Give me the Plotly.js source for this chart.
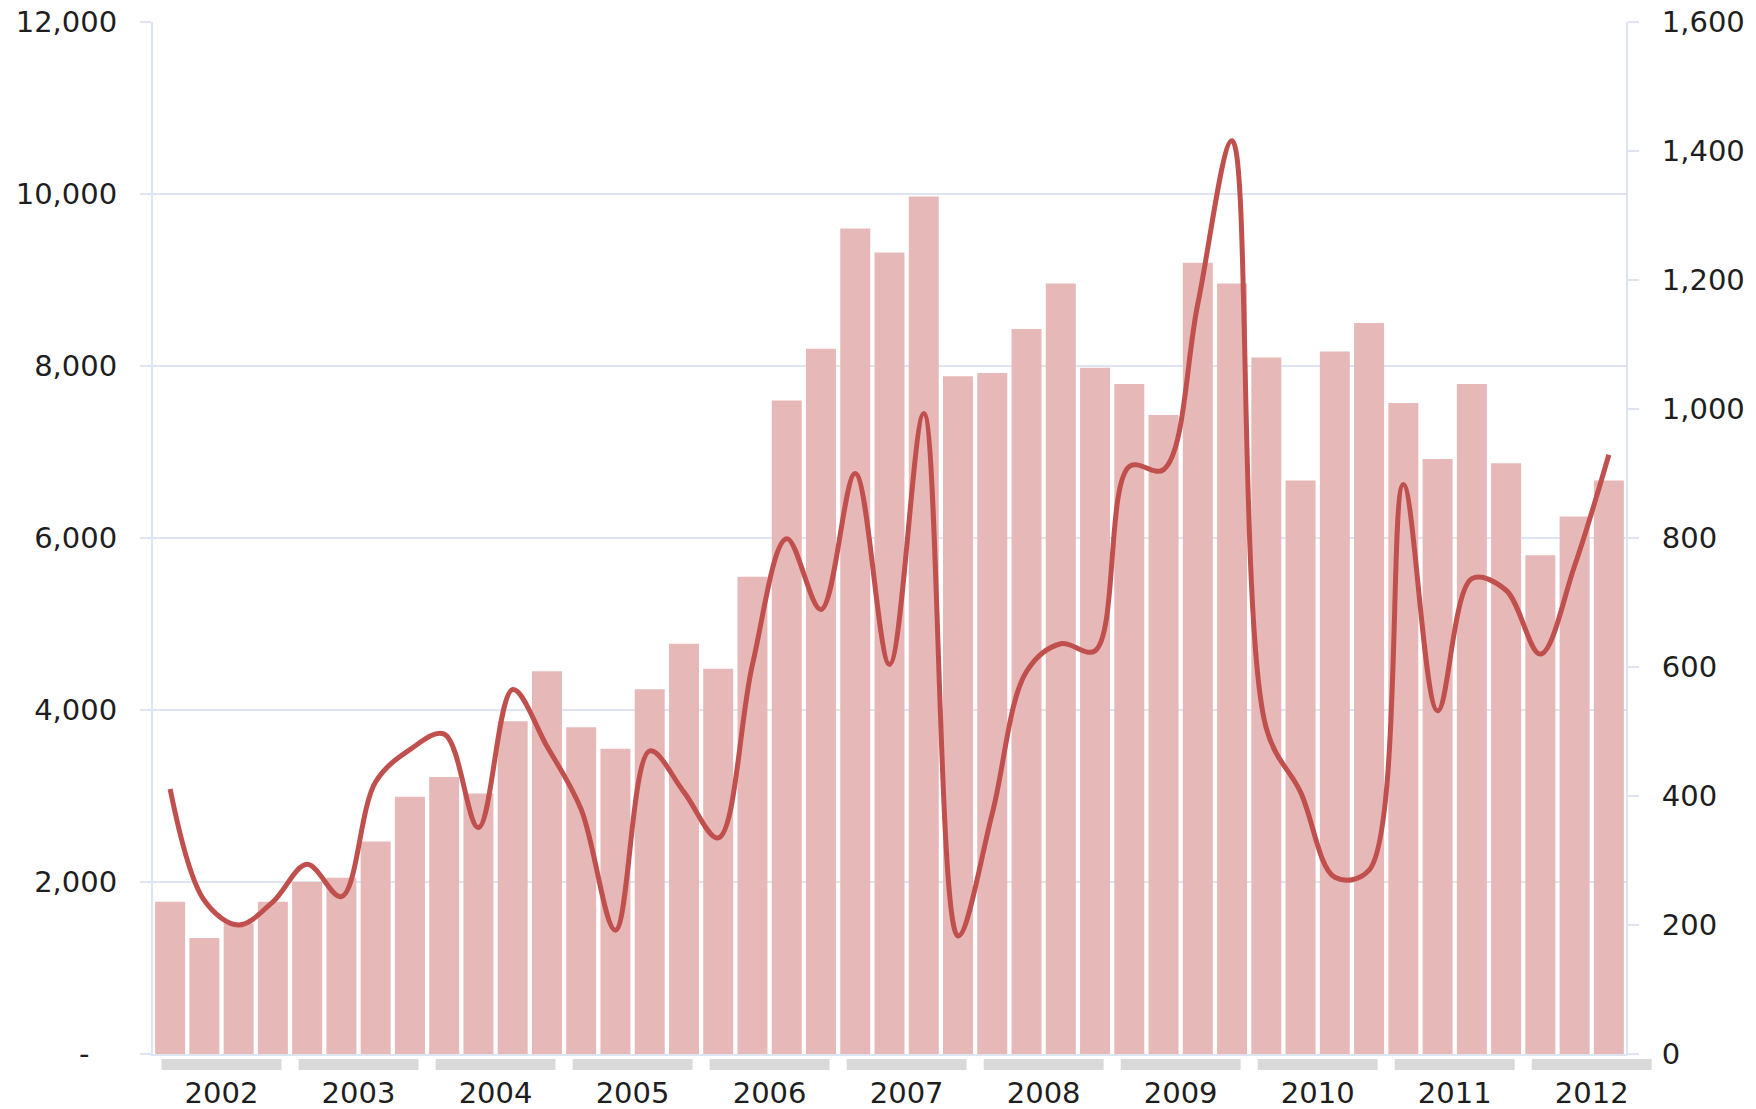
<!DOCTYPE html>
<html>
<head>
<meta charset="utf-8">
<script src="https://cdn.plot.ly/plotly-3.0.1.min.js"></script>
<style>
  html, body { margin: 0; padding: 0; background: #ffffff; }
  #chart { width: 1756px; height: 1109px; }
</style>
</head>
<body>
<div id="chart"></div>
<script>
// ---- data ----
const years = ["2002","2003","2004","2005","2006","2007","2008","2009","2010","2011","2012"];
const quarters = ["Q1","Q2","Q3","Q4"];

// quarterly bar values (left axis)
const barValues = [
  1770, 1350, 1520, 1770,
  2000, 2050, 2470, 2990,
  3220, 3030, 3870, 4450,
  3800, 3550, 4240, 4770,
  4480, 5550, 7600, 8200,
  9600, 9320, 9970, 7880,
  7920, 8430, 8960, 7980,
  7790, 7430, 9200, 8960,
  8100, 6670, 8170, 8500,
  7570, 6920, 7790, 6870,
  5800, 6250, 6670
];

// quarterly line values (right axis)
const lineValues = [
  411, 238, 200, 236,
  294, 244, 422, 472,
  496, 351, 565, 477,
  379, 192, 470, 406,
  335, 604, 799, 689,
  900, 604, 993, 183,
  373, 593, 636, 625,
  911, 906, 1163, 1416,
  505, 406, 274, 285,
  883, 532, 737, 719,
  620, 757, 929
];

const leftTicks = [0, 2000, 4000, 6000, 8000, 10000, 12000];
const leftTickText = ["-\u00a0\u00a0\u00a0", "2,000", "4,000", "6,000", "8,000", "10,000", "12,000"];
const rightTicks = [0, 200, 400, 600, 800, 1000, 1200, 1400, 1600];

// ---- derived ----
const n = barValues.length;
const xIdx = barValues.map((_, i) => i);
const hoverLabels = barValues.map((_, i) => years[Math.floor(i / 4)] + " " + quarters[i % 4]);
const yearCenters = years.map((_, k) => k * 4 + 1.5);

const gridColor = "#dce5f1";
const textColor = "#1e1e1e";
const fontFamily = "DejaVu Sans, Verdana, sans-serif";

const plotH = 1109 - 22 - 55;

const shapes = yearCenters.map(c => ({
  type: "rect",
  xref: "paper", yref: "paper",
  x0: (c - 1.75 + 0.5) / n,
  x1: (c + 1.75 + 0.5) / n,
  y0: -16 / plotH,
  y1: -5 / plotH,
  fillcolor: "#d9d9d9",
  line: { width: 0 },
  layer: "above"
}));

const traces = [
  {
    type: "bar",
    x: xIdx,
    y: barValues,
    text: hoverLabels,
    hoverinfo: "text+y",
    textposition: "none",
    marker: { color: "#e6b8b7", line: { width: 0 } },
    yaxis: "y",
    showlegend: false
  },
  {
    type: "scatter",
    mode: "lines",
    x: xIdx,
    y: lineValues,
    text: hoverLabels,
    hoverinfo: "text+y",
    line: { color: "#c0504d", width: 5, shape: "spline", smoothing: 1 },
    yaxis: "y2",
    showlegend: false
  }
];

const layout = {
  width: 1756,
  height: 1109,
  margin: { l: 153, r: 130, t: 22, b: 55, pad: 0 },
  paper_bgcolor: "#ffffff",
  plot_bgcolor: "#ffffff",
  font: { family: fontFamily, size: 29, color: textColor },
  bargap: 0.125,
  showlegend: false,
  xaxis: {
    range: [-0.5, n - 0.5],
    tickmode: "array",
    tickvals: yearCenters,
    ticktext: years,
    ticks: "",
    ticklabelstandoff: 12,
    showgrid: false,
    zeroline: false,
    showline: true,
    linecolor: gridColor,
    linewidth: 2,
    tickfont: { family: fontFamily, size: 29, color: textColor },
    fixedrange: true
  },
  yaxis: {
    range: [0, 12000],
    tickmode: "array",
    tickvals: leftTicks,
    ticktext: leftTickText,
    showgrid: true,
    gridcolor: gridColor,
    gridwidth: 1.5,
    zeroline: false,
    showline: true,
    linecolor: gridColor,
    linewidth: 2,
    ticks: "outside",
    ticklen: 11,
    tickwidth: 1.5,
    tickcolor: gridColor,
    ticklabelstandoff: 17,
    tickfont: { family: fontFamily, size: 29, color: textColor },
    fixedrange: true
  },
  yaxis2: {
    overlaying: "y",
    side: "right",
    range: [0, 1600],
    tickmode: "array",
    tickvals: rightTicks,
    tickformat: ",",
    showgrid: false,
    zeroline: false,
    showline: true,
    linecolor: gridColor,
    linewidth: 2,
    ticks: "outside",
    ticklen: 11,
    tickwidth: 1.5,
    tickcolor: gridColor,
    ticklabelstandoff: 17,
    tickfont: { family: fontFamily, size: 29, color: textColor },
    fixedrange: true
  },
  shapes: shapes
};

Plotly.newPlot("chart", traces, layout, { displayModeBar: false, staticPlot: false });
</script>
</body>
</html>
